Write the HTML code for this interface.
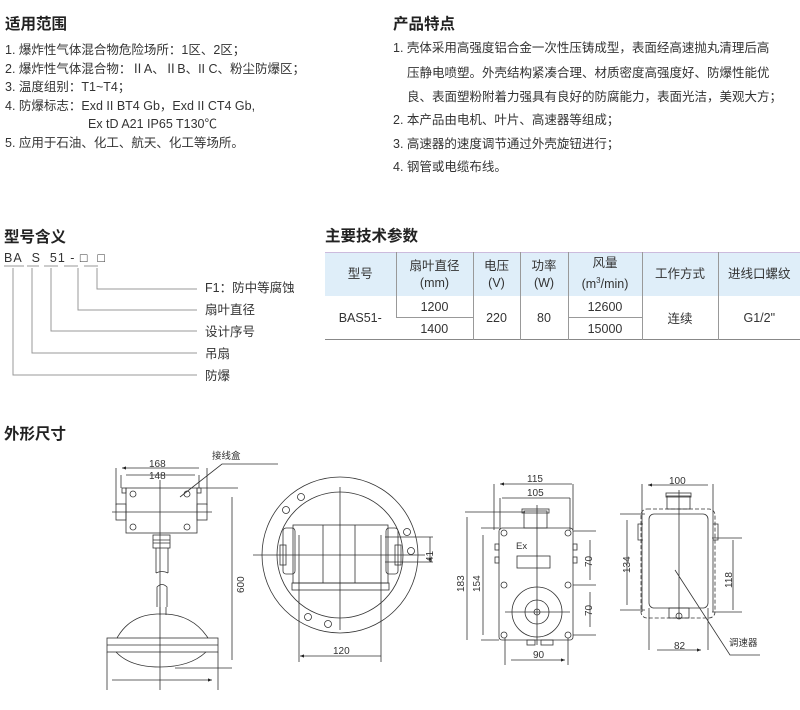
<!DOCTYPE html>
<html><head><meta charset="utf-8">
<style>
body{margin:0;width:800px;height:710px;background:#fff;position:relative;overflow:hidden;font-family:"Liberation Sans","Noto Sans CJK SC",sans-serif;color:#333}
.t{position:absolute;white-space:nowrap;font-size:12.5px;line-height:16px}
.h{position:absolute;font-size:15.5px;font-weight:bold;color:#222;white-space:nowrap}
table{position:absolute;left:325px;top:252px;width:475px;table-layout:fixed;border-collapse:collapse;font-size:12.5px;text-align:center;color:#333}
th{background:#dfeef9;font-weight:normal;height:43px;line-height:17px;border-left:1px solid #999;white-space:nowrap;padding:0}
td{border-left:1px solid #999;height:21px;padding:0;white-space:nowrap}
th:first-child,td:first-child{border-left:none}
table{border-bottom:1px solid #888;border-top:1px solid #cbd}
.b{border-bottom:1px solid #999}
</style></head><body>
<div class="h" style="left:5px;top:12px">适用范围</div>
<div class="t" style="left:5px;top:42px">1. 爆炸性气体混合物危险场所：1区、2区；</div>
<div class="t" style="left:5px;top:61px">2. 爆炸性气体混合物：ⅡA、ⅡB、II C、粉尘防爆区；</div>
<div class="t" style="left:5px;top:79px">3. 温度组别：T1~T4；</div>
<div class="t" style="left:5px;top:98px">4. 防爆标志：Exd II BT4 Gb，Exd II CT4 Gb,</div>
<div class="t" style="left:88px;top:116px">Ex tD A21 IP65 T130℃</div>
<div class="t" style="left:5px;top:135px">5. 应用于石油、化工、航天、化工等场所。</div>

<div class="h" style="left:393px;top:12px">产品特点</div>
<div class="t" style="left:393px;top:40px">1. 壳体采用高强度铝合金一次性压铸成型，表面经高速抛丸清理后高</div>
<div class="t" style="left:407px;top:65px">压静电喷塑。外壳结构紧凑合理、材质密度高强度好、防爆性能优</div>
<div class="t" style="left:407px;top:89px">良、表面塑粉附着力强具有良好的防腐能力，表面光洁，美观大方；</div>
<div class="t" style="left:393px;top:112px">2. 本产品由电机、叶片、高速器等组成；</div>
<div class="t" style="left:393px;top:136px">3. 高速器的速度调节通过外壳旋钮进行；</div>
<div class="t" style="left:393px;top:159px">4. 钢管或电缆布线。</div>

<div class="h" style="left:4px;top:225px">型号含义</div>
<div class="t" style="left:4px;top:250px;letter-spacing:1px">BA&nbsp;&nbsp;S&nbsp;&nbsp;51 -&nbsp;□&nbsp;&nbsp;□</div>
<div class="t" style="left:205px;top:280px">F1：防中等腐蚀</div>
<div class="t" style="left:205px;top:302px">扇叶直径</div>
<div class="t" style="left:205px;top:324px">设计序号</div>
<div class="t" style="left:205px;top:346px">吊扇</div>
<div class="t" style="left:205px;top:368px">防爆</div>

<div class="h" style="left:4px;top:422px">外形尺寸</div>
<div class="h" style="left:325px;top:224px">主要技术参数</div>

<table>
<colgroup><col style="width:71px"><col style="width:77px"><col style="width:47px"><col style="width:48px"><col style="width:74px"><col style="width:76px"><col style="width:82px"></colgroup>
<tr><th>型号</th><th>扇叶直径<br>(mm)</th><th>电压<br>(V)</th><th>功率<br>(W)</th><th>风量<br>(m<sup style="font-size:8px">3</sup>/min)</th><th>工作方式</th><th>进线口螺纹</th></tr>
<tr><td rowspan="2">BAS51-</td><td class="b">1200</td><td rowspan="2">220</td><td rowspan="2">80</td><td class="b">12600</td><td rowspan="2">连续</td><td rowspan="2">G1/2"</td></tr>
<tr><td>1400</td><td>15000</td></tr>
</table>

<svg width="800" height="710" style="position:absolute;left:0;top:0" font-family="Liberation Sans, Noto Sans CJK SC, sans-serif">
<defs><marker id="a" markerWidth="6" markerHeight="6" refX="5" refY="3" orient="auto-start-reverse"><path d="M0,1 L5,3 L0,5z" fill="#222"/></marker></defs>
<g stroke="#999" stroke-width="1" fill="none">
<path d="M4,266h20M27,266h12M44,266h14M64,266h14M84,266h14"/>
<path d="M97,268V289H197M78,268V310H197M51,268V331H197M32,268V353H197M13,268V375H197"/>
</g>
<g stroke="#333" stroke-width="0.8" fill="none">
<rect x="126" y="488" width="71" height="45"/>
<rect x="116" y="504" width="10" height="16"/><rect x="197" y="504" width="10" height="16"/>
<rect x="122" y="488" width="4" height="5"/><rect x="197" y="488" width="4" height="5"/>
<circle cx="133" cy="494" r="3"/><circle cx="187" cy="494" r="3"/><circle cx="133" cy="527" r="3"/><circle cx="187" cy="527" r="3"/>
<path d="M160,480V690M112,512H212M116,468V505M207,468V505M121,475V488M199,475V488M197,488H238"/>
<rect x="153" y="535" width="17" height="13"/><path d="M153,540h17M153,543h17"/>
<path d="M156,548V573M168,548V573M156,573q6,-3 12,0"/>
<path d="M157,607V587q5,-5 10,0V607M160,607V615M166,607V615"/>
<path d="M117,638Q130,615 157,614H165Q193,615 208,638"/>
<rect x="107" y="638" width="111" height="14"/><path d="M107,645h111"/>
<path d="M116,652Q130,667 160,667Q190,667 206,652M175,668H232M107,652V690M218,652V690"/>
<path d="M122,468H199M126,475H195M278,464H222L180,497M232,497V660M112,680H212" marker-start="url(#a)" marker-end="url(#a)" stroke="#333"/>
<circle cx="340" cy="555" r="78"/><circle cx="340" cy="555" r="63"/>
<circle cx="301" cy="497" r="3.5"/><circle cx="286" cy="510" r="3.5"/><circle cx="407" cy="532" r="3.5"/><circle cx="411" cy="551" r="3.5"/><circle cx="308" cy="617" r="3.5"/><circle cx="328" cy="624" r="3.5"/>
<rect x="293" y="525" width="95" height="58"/><rect x="292" y="583" width="97" height="7"/>
<path d="M323,525V583M355,525V583M340,487V630M253,555H425"/>
<rect x="283" y="528" width="12" height="46" rx="3"/><rect x="386" y="528" width="12" height="46" rx="3"/>
<rect x="280" y="545" width="6" height="20"/><rect x="395" y="545" width="6" height="20"/>
<path d="M299,535V662M381,535V662M385,537H433M385,562H433"/>
<path d="M300,656H381M430,537V562" marker-start="url(#a)" marker-end="url(#a)"/>
<rect x="499" y="528" width="74" height="112" rx="3"/>
<rect x="524" y="511" width="23" height="17"/><rect x="522" y="509" width="27" height="4"/>
<rect x="517" y="556" width="33" height="12"/>
<circle cx="537" cy="612" r="25"/><circle cx="537" cy="612" r="12"/><circle cx="537" cy="612" r="3"/>
<circle cx="504" cy="533" r="3"/><circle cx="568" cy="533" r="3"/><circle cx="504" cy="585" r="3"/><circle cx="568" cy="585" r="3"/><circle cx="504" cy="635" r="3"/><circle cx="568" cy="635" r="3"/>
<rect x="495" y="544" width="4" height="6"/><rect x="495" y="557" width="4" height="6"/><rect x="573" y="544" width="4" height="6"/><rect x="573" y="557" width="4" height="6"/>
<rect x="527" y="640" width="8" height="5"/><rect x="541" y="640" width="12" height="5"/>
<path d="M537,505V645M505,612H570M494,484V530M573,484V530M500,498V530M570,498V530M465,512H525M481,528H499M573,531H596M573,585H596M573,635H596M481,640H499M505,638V665M568,638V665"/>
<path d="M500,484H572M502,498H570M467,517V640M483,535V635M590,540V580M590,592V627M511,660H565" marker-start="url(#a)" marker-end="url(#a)"/>
<rect x="641" y="509" width="74" height="109" rx="6" stroke-dasharray="4,2"/>
<rect x="649" y="514" width="59" height="94" rx="5"/>
<rect x="667" y="496" width="23" height="13"/><rect x="666" y="493" width="25" height="4"/>
<path d="M643,524h-5v16h5M713,524h5v16h-5"/>
<rect x="669" y="608" width="20" height="10"/><circle cx="679" cy="616" r="3"/>
<path d="M679,490V618M642,484V612M713,484V612M620,514H645M620,610H645M712,538H742M712,612H742M649,608V650M708,608V650M675,570L730,655H760"/>
<path d="M648,485H708M627,520V605M733,540V610M657,650H701" marker-start="url(#a)" marker-end="url(#a)"/>
</g>
<g font-size="10" fill="#333">
<text x="149" y="467">168</text><text x="149" y="479">148</text>
<text x="212" y="459" font-size="9.5">接线盒</text>
<text transform="translate(244,593) rotate(-90)">600</text>
<text x="333" y="654">120</text>
<text transform="translate(433,562) rotate(-90)">41</text>
<text x="527" y="482">115</text><text x="527" y="496">105</text>
<text x="516" y="549" font-size="9.5">Ex</text>
<text transform="translate(464,592) rotate(-90)">183</text>
<text transform="translate(480,592) rotate(-90)">154</text>
<text transform="translate(592,567) rotate(-90)">70</text>
<text transform="translate(592,616) rotate(-90)">70</text>
<text x="533" y="658">90</text>
<text x="669" y="484">100</text>
<text transform="translate(630,573) rotate(-90)">134</text>
<text transform="translate(732,588) rotate(-90)">118</text>
<text x="674" y="649">82</text>
<text x="729" y="646" font-size="9.5">调速器</text>
</g>
</svg>
</body></html>
